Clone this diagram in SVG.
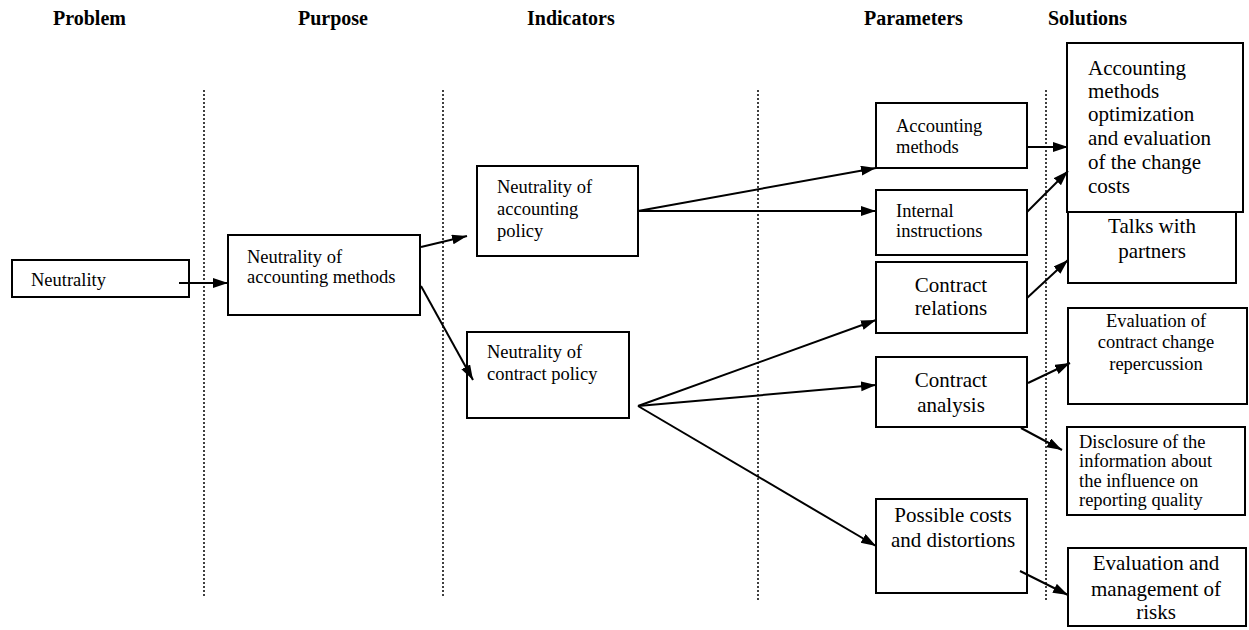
<svg xmlns="http://www.w3.org/2000/svg" width="1249" height="630" viewBox="0 0 1249 630" font-family="'Liberation Serif', Tinos, 'Times New Roman', 'DejaVu Serif', serif">
<defs>
<style>
text{font-family:"Liberation Serif",Tinos,"Times New Roman","DejaVu Serif",serif;fill:#000}
.h{font-size:20px;font-weight:bold}
.s{font-size:18.5px}
.l{font-size:21px}
.c{text-anchor:middle}
rect{fill:#fff;stroke:#000;stroke-width:2}
.dot{stroke:#000;stroke-width:1.5;stroke-dasharray:2 2;fill:none}
.ar{stroke:#000;stroke-width:2;fill:none;marker-end:url(#ah)}
</style>
<marker id="ah" markerUnits="userSpaceOnUse" markerWidth="16" markerHeight="12" refX="15" refY="5" orient="auto">
<path d="M0,0 L15,5 L0,10 z" fill="#000"/>
</marker>
</defs>
<rect x="0" y="0" width="1249" height="630" style="stroke:none;fill:#fff"/>
<g id="headers">
<text class="h" x="53" y="25">Problem</text>
<text class="h" x="298" y="25">Purpose</text>
<text class="h" x="527" y="25">Indicators</text>
<text class="h" x="864" y="25">Parameters</text>
<text class="h" x="1048" y="25">Solutions</text>
</g>
<g id="dividers">
<line class="dot" x1="204" y1="90" x2="204" y2="598"/>
<line class="dot" x1="443" y1="90" x2="443" y2="598"/>
<line class="dot" x1="758" y1="90" x2="758" y2="600"/>
<line class="dot" x1="1046" y1="90" x2="1046" y2="600"/>
</g>
<g id="n-neutrality">
<rect x="12" y="260" width="177" height="37"/>
<text class="s" x="31" y="286">Neutrality</text>
</g>
<g id="n-purpose">
<rect x="228" y="235" width="192" height="80"/>
<text class="s" x="247" y="263">Neutrality of</text>
<text class="s" x="247" y="283">accounting methods</text>
</g>
<g id="n-acc-policy">
<rect x="477" y="166" width="161" height="90"/>
<text class="s" x="497" y="193">Neutrality of</text>
<text class="s" x="497" y="215">accounting</text>
<text class="s" x="497" y="237">policy</text>
</g>
<g id="n-contract-policy">
<rect x="467" y="332" width="162" height="86"/>
<text class="s" x="487" y="358">Neutrality of</text>
<text class="s" x="487" y="380">contract policy</text>
</g>
<g id="p-acc-methods">
<rect x="876" y="103" width="151" height="65"/>
<text class="s" x="896" y="132">Accounting</text>
<text class="s" x="896" y="153">methods</text>
</g>
<g id="p-internal">
<rect x="876" y="190" width="151" height="65"/>
<text class="s" x="896" y="217">Internal</text>
<text class="s" x="896" y="237">instructions</text>
</g>
<g id="p-contract-relations">
<rect x="876" y="262" width="151" height="71"/>
<text class="l c" x="951" y="292">Contract</text>
<text class="l c" x="951" y="315">relations</text>
</g>
<g id="p-contract-analysis">
<rect x="876" y="357" width="151" height="70"/>
<text class="l c" x="951" y="387">Contract</text>
<text class="l c" x="951" y="412">analysis</text>
</g>
<g id="p-costs">
<rect x="876" y="499" width="151" height="94"/>
<text class="l c" x="953" y="522">Possible costs</text>
<text class="l c" x="953" y="547">and distortions</text>
</g>
<g id="s-talks">
<rect x="1068" y="200" width="168" height="83"/>
<text class="l c" x="1152" y="233">Talks with</text>
<text class="l c" x="1152" y="258">partners</text>
</g>
<g id="s-acc-opt">
<rect x="1067" y="43" width="176" height="169"/>
<text class="l" x="1088" y="75">Accounting</text>
<text class="l" x="1088" y="98">methods</text>
<text class="l" x="1088" y="121">optimization</text>
<text class="l" x="1088" y="145">and evaluation</text>
<text class="l" x="1088" y="169">of the change</text>
<text class="l" x="1088" y="193">costs</text>
</g>
<g id="s-eval-contract">
<rect x="1068" y="308" width="179" height="96"/>
<text class="s c" x="1156" y="327">Evaluation of</text>
<text class="s c" x="1156" y="348">contract change</text>
<text class="s c" x="1156" y="370">repercussion</text>
</g>
<g id="s-disclosure">
<rect x="1067" y="427" width="178" height="88"/>
<text class="s" x="1079" y="448">Disclosure of the</text>
<text class="s" x="1079" y="467">information about</text>
<text class="s" x="1079" y="487">the influence on</text>
<text class="s" x="1079" y="506">reporting quality</text>
</g>
<g id="s-risks">
<rect x="1068" y="548" width="178" height="78"/>
<text class="l c" x="1156" y="570">Evaluation and</text>
<text class="l c" x="1156" y="596">management of</text>
<text class="l c" x="1156" y="619">risks</text>
</g>
<g id="connectors">
<line class="ar" x1="179" y1="283" x2="228" y2="283"/>
<line class="ar" x1="421" y1="247" x2="467" y2="236"/>
<line class="ar" x1="421" y1="286" x2="473" y2="380"/>
<line class="ar" x1="638" y1="211" x2="876" y2="168"/>
<line class="ar" x1="638" y1="211" x2="876" y2="211"/>
<line class="ar" x1="638" y1="406" x2="876" y2="320"/>
<line class="ar" x1="638" y1="406" x2="876" y2="385"/>
<line class="ar" x1="638" y1="406" x2="876" y2="546"/>
<line class="ar" x1="1027" y1="147" x2="1068" y2="147"/>
<line class="ar" x1="1027" y1="212" x2="1068" y2="171"/>
<line class="ar" x1="1027" y1="298" x2="1068" y2="260"/>
<line class="ar" x1="1028" y1="383" x2="1070" y2="363"/>
<line class="ar" x1="1021" y1="428" x2="1062" y2="450"/>
<line class="ar" x1="1020" y1="571" x2="1068" y2="595"/>
</g>
</svg>
